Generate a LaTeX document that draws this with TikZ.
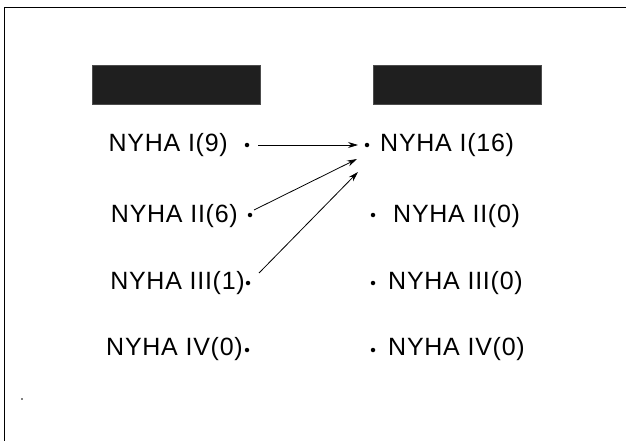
\documentclass[tikz,border=0pt]{standalone}
\usepackage{fontspec}
\setmainfont{Liberation Sans}[LetterSpace=3]
\usetikzlibrary{arrows.meta}
\begin{document}
\begin{tikzpicture}[x=1pt,y=-1pt,
  lbl/.style={font=\fontsize{25}{29}\selectfont, inner sep=0pt},
  pt/.style={circle,fill=black,inner sep=0pt,minimum size=4.5pt},
  hdr/.style={fill=black!88, draw=black!70, inner sep=0pt, minimum width=168pt, minimum height=39pt},
  arr/.style={-{Stealth[length=10pt,width=6pt]}, line width=0.8pt},
  frame/.style={line width=0.8pt}]
\useasboundingbox (0,0) rectangle (626,441);
\coordinate (fa) at (4,441);
\coordinate (fb) at (4,7);
\coordinate (fc) at (626,7);
\draw[frame] (fa) -- (fb) -- (fc);
\fill (22,399) circle (0.9pt);
% headers
\node[hdr] (h1) at (176,84.5) {};
\node[hdr] (h2) at (457.5,84.5) {};
% left column
\node[lbl, anchor=east] (l1) at (228,145) {NYHA I(9)};
\node[lbl, anchor=east] (l2) at (238,216) {NYHA II(6)};
\node[lbl, anchor=east] (l3) at (245,283) {NYHA III(1)};
\node[lbl, anchor=east] (l4) at (243,349) {NYHA IV(0)};
\node[pt] (dl1) at (247,145) {};
\node[pt] (dl2) at (250,215) {};
\node[pt] (dl3) at (248,283) {};
\node[pt] (dl4) at (247,350) {};
% right column
\node[pt] (dr1) at (367,145) {};
\node[pt] (dr2) at (373,215) {};
\node[pt] (dr3) at (373,283) {};
\node[pt] (dr4) at (373,350) {};
\node[lbl, anchor=west] (r1) at (380,145) {NYHA I(16)};
\node[lbl, anchor=west] (r2) at (393,216) {NYHA II(0)};
\node[lbl, anchor=west] (r3) at (388,283) {NYHA III(0)};
\node[lbl, anchor=west] (r4) at (388,349) {NYHA IV(0)};
% arrow ends
\coordinate (s1) at (258,145);
\coordinate (t1) at (358,145);
\coordinate (s2) at (254,210);
\coordinate (t2) at (357,159);
\coordinate (s3) at (259,273);
\coordinate (t3) at (358,172);
\draw[arr] (s1) -- (t1);
\draw[arr] (s2) -- (t2);
\draw[arr] (s3) -- (t3);
\end{tikzpicture}
\end{document}
